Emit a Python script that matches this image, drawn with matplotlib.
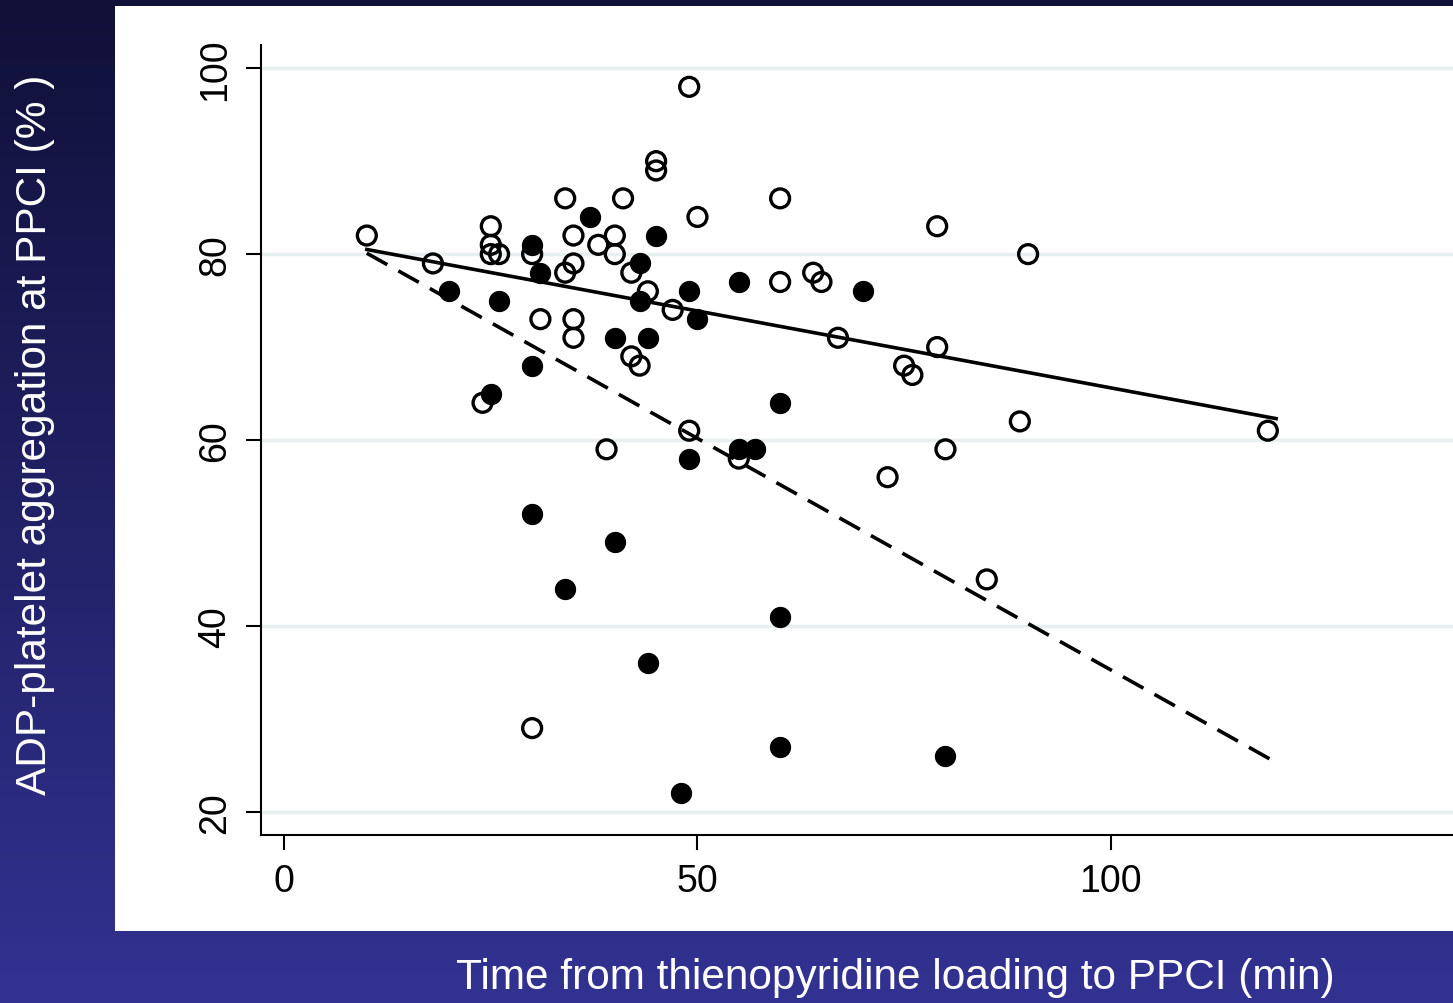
import numpy as np
import matplotlib.pyplot as plt

plt.rcParams['font.family'] = ['Liberation Sans', 'DejaVu Sans']

# open circles
open_x = [10, 18, 24, 25, 25, 25, 26, 30, 30, 31, 34, 34, 35, 35, 35, 35, 38, 39, 40, 40,
          41, 42, 42, 43, 44, 45, 45, 47, 49, 49, 50, 55, 60, 60, 64, 65, 67, 73, 75, 76,
          79, 79, 80, 85, 89, 90, 119]
open_y = [82, 79, 64, 83, 81, 80, 80, 80, 29, 73, 86, 78, 82, 79, 73, 71, 81, 59, 82, 80,
          86, 78, 69, 68, 76, 90, 89, 74, 98, 61, 84, 58, 86, 77, 78, 77, 71, 56, 68, 67,
          83, 70, 59, 45, 62, 80, 61]

# filled circles
fill_x = [20, 25, 26, 30, 30, 30, 31, 34, 37, 40, 40, 43, 43, 44, 44, 45, 48, 49, 49, 50,
          55, 55, 57, 60, 60, 60, 70, 80]
fill_y = [76, 65, 75, 81, 68, 52, 78, 44, 84, 71, 49, 79, 75, 71, 36, 82, 22, 76, 58, 73,
          77, 59, 59, 64, 41, 27, 76, 26]

# fitted lines (end points)
fit_x = [10, 120]
solid_y = [80.5, 62.3]
dashed_y = [80.1, 25.3]

x_ticks = [0, 50, 100]
y_ticks = [20, 40, 60, 80, 100]

fig = plt.figure(figsize=(14.53, 10.04), dpi=100)

# gradient background
bg = fig.add_axes([0, 0, 1, 1])
top = np.array([16, 16, 56]) / 255
bottom = np.array([50, 50, 146]) / 255
t = np.linspace(0, 1, 256)[:, None]
grad = top[None, :] * (1 - t) + bottom[None, :] * t
bg.imshow(grad[:, None, :], aspect='auto', extent=[0, 1, 0, 1])
bg.set_axis_off()

# white panel
panel = fig.add_axes([115 / 1453, 1 - 932 / 1004, 1 - 115 / 1453, (932 - 7) / 1004])
panel.set_facecolor('white')
panel.set_xticks([])
panel.set_yticks([])
for s in panel.spines.values():
    s.set_visible(False)

ax = fig.add_axes([261 / 1453, 1 - 836 / 1004, 1 - 261 / 1453, (836 - 46) / 1004])
ax.set_facecolor('none')
ax.set_xlim(-2.8, 141.4)
ax.set_ylim(17.5, 102.5)

for yv in y_ticks:
    ax.axhline(yv, color='#e8eff1', lw=2.5, zorder=0)

ax.plot(fit_x, solid_y, color='black', lw=2.6, zorder=2)
ax.plot(fit_x, dashed_y, color='black', lw=2.6, dashes=(6.5, 3.5), zorder=2)

ax.scatter(open_x, open_y, s=185, facecolors='none', edgecolors='black', linewidths=2.4, zorder=3)
ax.scatter(fill_x, fill_y, s=205, color='black', zorder=3)

ax.spines['top'].set_visible(False)
ax.spines['right'].set_visible(False)
for s in ['left', 'bottom']:
    ax.spines[s].set_linewidth(1.5)

ax.set_xticks(x_ticks)
ax.set_yticks(y_ticks)
ax.tick_params(length=11, width=1.5, labelsize=27, pad=9)
plt.setp(ax.get_yticklabels(), rotation=90, va='center')

fig.text(35 / 1453, 1 - 435 / 1004, 'ADP-platelet aggregation at PPCI (% )', rotation=90,
         color='white', fontsize=30.5, ha='center', va='center')
fig.text(895 / 1453, 1 - 978 / 1004, 'Time from thienopyridine loading to PPCI (min)',
         color='white', fontsize=30.5, ha='center', va='center')

fig.savefig('out.png', dpi=100)
